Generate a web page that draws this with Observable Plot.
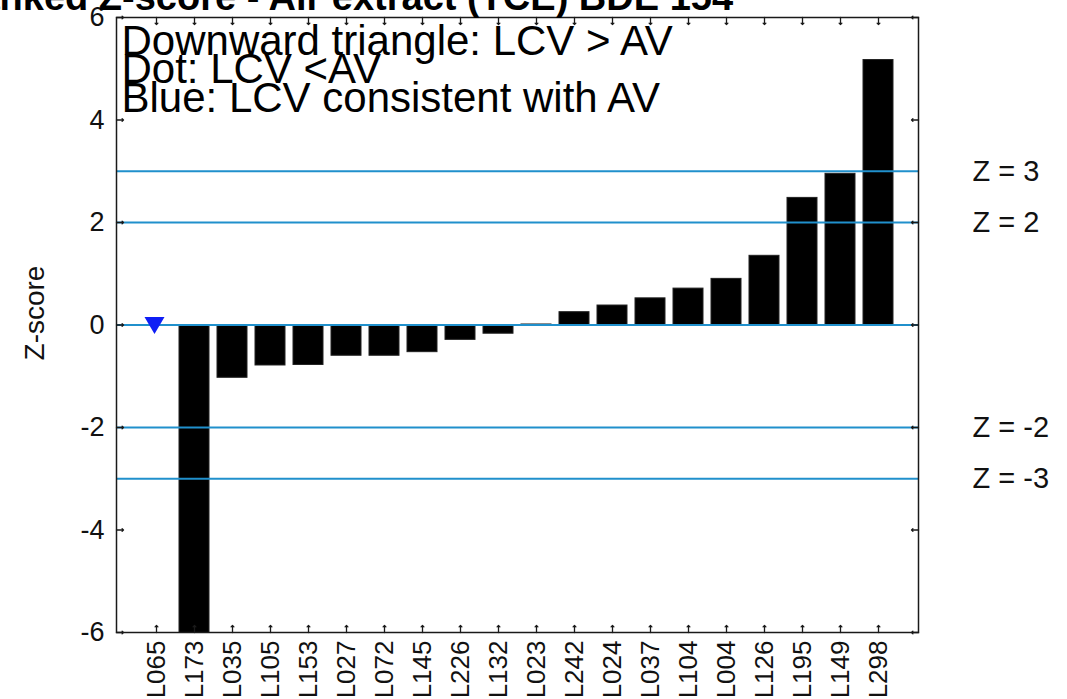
<!DOCTYPE html>
<html><head><meta charset="utf-8">
<script src="https://cdn.jsdelivr.net/npm/d3@7"></script>
<script src="https://cdn.jsdelivr.net/npm/@observablehq/plot@0.6"></script>
<style>
html,body{margin:0;padding:0;background:#fff;overflow:hidden}
#wrap{position:relative;width:1067px;height:699px;overflow:hidden}
#title{position:absolute;left:-49px;top:-22px;font:bold 38px "Liberation Sans",Arial,sans-serif;white-space:nowrap;line-height:38px;color:#000}
#chart{position:absolute;left:0;top:0}
</style></head><body>
<div id="wrap"><div id="chart"></div><div id="title">Ranked Z-score - Air extract (TCE) BDE 154</div></div>
<script>
// Data
const labs = ["L065","L173","L035","L105","L153","L027","L072","L145","L226","L132","L023","L242","L024","L037","L104","L004","L126","L195","L149","L298"];
const zscores = [0, -7, -1.03, -0.79, -0.78, -0.60, -0.60, -0.53, -0.29, -0.17, 0.01, 0.25, 0.38, 0.52, 0.71, 0.90, 1.35, 2.48, 2.95, 5.17];
const triangleLabs = ["L065"];
const triangleZ = [0];
const zLines = [3, 2, 0, -2, -3];
const zLineLabels = ["Z = 3", "Z = 2", "", "Z = -2", "Z = -3"];
const yTicks = [-6, -4, -2, 0, 2, 4, 6];
const yLabel = ["Z-score"];
const legendLines = ["Downward triangle: LCV > AV", "Dot: LCV <AV", "Blue: LCV consistent with AV"];

const bars = labs.map((l, i) => ({lab: l, z: zscores[i]})).filter(d => d.lab !== "L065");
const markers = triangleLabs.map((l, i) => ({lab: l, z: triangleZ[i]}));
const lineData = zLines.map((z, i) => ({z, label: zLineLabels[i]}));

const downTri = {
  draw(ctx, size) {
    ctx.moveTo(-10, -8);
    ctx.lineTo(10, -8);
    ctx.lineTo(0, 9);
    ctx.closePath();
  }
};

const font = "'Liberation Sans', Arial, sans-serif";
const ink = "#1a1a1a";

const chart = Plot.plot({
  width: 1067, height: 699,
  marginLeft: 116, marginRight: 149, marginTop: 17, marginBottom: 67,
  style: {fontFamily: font, background: "transparent", color: "#111"},
  x: {domain: labs, paddingInner: 0.2, paddingOuter: 0.55, label: null},
  y: {domain: [-6, 6], label: null},
  marks: [
    Plot.barY(bars, {x: "lab", y: "z", fill: "#000", stroke: "#222", strokeWidth: 1, clip: true}),
    Plot.ruleY(lineData, {y: "z", stroke: "#2090cc", strokeWidth: 2}),
    Plot.dot(markers, {x: "lab", y: "z", symbol: downTri, fill: "#0f1ef5", stroke: "none", dx: -2}),
    Plot.frame({stroke: ink, strokeWidth: 1.5}),
    Plot.vector(yTicks, {y: d => d, frameAnchor: "left", anchor: "start", length: 7, rotate: 90, stroke: ink, strokeWidth: 1.3}),
    Plot.vector(yTicks, {y: d => d, frameAnchor: "right", anchor: "start", length: 7, rotate: -90, stroke: ink, strokeWidth: 1.3}),
    Plot.vector(labs, {x: d => d, frameAnchor: "bottom", anchor: "start", length: 7, rotate: 0, stroke: ink, strokeWidth: 1.3}),
    Plot.vector(labs, {x: d => d, frameAnchor: "top", anchor: "start", length: 7, rotate: 180, stroke: ink, strokeWidth: 1.3}),
    Plot.axisY({ticks: yTicks, tickSize: 0, tickPadding: 12, fontSize: 27, tickFormat: d => String(d), label: null}),
    Plot.text(yLabel, {text: d => d, frameAnchor: "left", dx: -81, dy: -12, rotate: -90, textAnchor: "middle", lineAnchor: "middle", fontSize: 28, fill: "#111"}),
    Plot.axisX({tickSize: 0, tickRotate: -90, tickPadding: 8, fontSize: 26, label: null}),
    Plot.text(lineData.filter(d => d.label), {y: "z", text: "label", frameAnchor: "right", dx: 54, textAnchor: "start", fontSize: 29, fill: "#111"}),
    Plot.text([legendLines.join("\n")], {text: d => d, frameAnchor: "top-left", dx: 5, dy: 17, lineAnchor: "top", lineHeight: 0.68, textAnchor: "start", fontSize: 42, fill: "#000"})
  ]
});
document.getElementById("chart").appendChild(chart);
</script>
</body></html>
